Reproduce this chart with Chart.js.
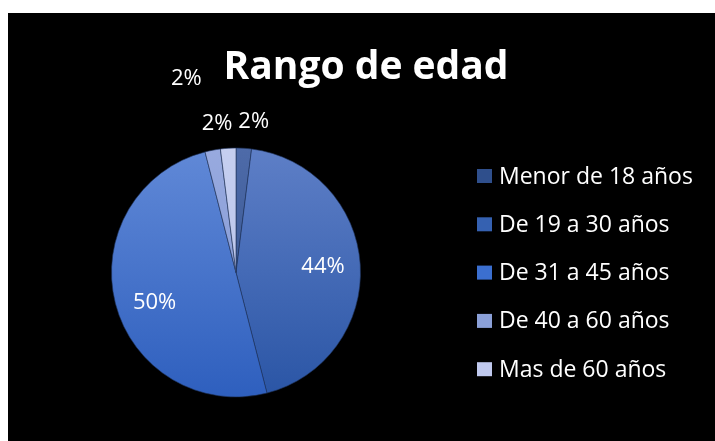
<!DOCTYPE html>
<html>
<head>
<meta charset="utf-8">
<script src="https://cdn.jsdelivr.net/npm/chart.js@4.4.1/dist/chart.umd.min.js"></script>
<style>
  html, body { margin: 0; padding: 0; background: #ffffff; }
  body { width: 715px; height: 441px; position: relative; overflow: hidden; }
  #wrap { position: absolute; left: 8px; top: 13px; width: 707px; height: 428px; background: #000000; }
  canvas { display: block; }
</style>
</head>
<body>
<div id="wrap"><canvas id="c" width="707" height="428"></canvas></div>
<script>
// ---- data ----
const titleText = "Rango de edad";
const categories = ["Menor de 18 años", "De 19 a 30 años", "De 31 a 45 años", "De 40 a 60 años", "Mas de 60 años"];
const counts = [1, 22, 25, 1, 1];

// ---- styles ----
const topColors    = ["#4e6ba9", "#5e7fc7", "#6189d7", "#98aadf", "#c6cff0"];
const bottomColors = ["#2b4a86", "#2a55a5", "#2e5fbe", "#7e94d1", "#b2bee8"];
const legendColors = ["#2f4f8c", "#3561b1", "#3b6fd0", "#8ba0d8", "#c0c9ee"];
// label placement: outside labels (true) or inside, plus pixel nudges
const labelOutside = [true, false, false, true, true];
const labelShift = [[8, 3], [0, 0], [3, 9], [10, 3], [-40, -40]];
const FONT = "'Open Sans', Lato, 'DejaVu Sans', sans-serif";

function sliceFill(ctx, i) {
  const area = ctx.chart.chartArea;
  if (!area) return legendColors[i];
  const g = ctx.chart.ctx.createLinearGradient(0, area.top, 0, area.bottom);
  g.addColorStop(0, topColors[i]);
  g.addColorStop(1, bottomColors[i]);
  return g;
}

const overlay = {
  id: 'overlay',
  afterDraw(chart) {
    const ctx = chart.ctx;
    const meta = chart.getDatasetMeta(0);
    const total = counts.reduce((a, b) => a + b, 0);
    ctx.save();
    // title
    ctx.fillStyle = "#ffffff";
    ctx.font = "bold 39px " + FONT;
    ctx.textAlign = "center";
    ctx.textBaseline = "alphabetic";
    ctx.fillText(titleText, 358, 66);

    // percentage labels
    ctx.textBaseline = "middle";
    ctx.font = "22px " + FONT;
    meta.data.forEach((arc, i) => {
      const p = arc.getProps(['x', 'y', 'startAngle', 'endAngle', 'outerRadius'], true);
      const mid = (p.startAngle + p.endAngle) / 2;
      const pct = Math.round(counts[i] / total * 100) + "%";
      const r = labelOutside[i] ? p.outerRadius + 30 : p.outerRadius * 0.7;
      const x = p.x + Math.cos(mid) * r + labelShift[i][0];
      const y = p.y + Math.sin(mid) * r + labelShift[i][1];
      ctx.fillText(pct, x, y);
    });

    // legend
    ctx.textAlign = "left";
    ctx.font = "23px " + FONT;
    categories.forEach((name, i) => {
      const cy = 163 + i * 48.3;
      ctx.fillStyle = legendColors[i];
      ctx.fillRect(469, cy - 7, 15, 14);
      ctx.fillStyle = "#ffffff";
      ctx.fillText(name, 491, cy + 1);
    });
    ctx.restore();
  }
};

new Chart(document.getElementById('c'), {
  type: 'pie',
  data: {
    labels: categories,
    datasets: [{
      data: counts,
      backgroundColor: (ctx) => sliceFill(ctx, ctx.dataIndex),
      borderColor: "rgba(30,50,90,0.6)",
      borderWidth: 1
    }]
  },
  options: {
    responsive: false,
    animation: false,
    layout: { padding: { left: 103, right: 354, top: 134, bottom: 43 } },
    plugins: { legend: { display: false }, title: { display: false }, tooltip: { enabled: false } }
  },
  plugins: [overlay]
});
</script>
</body>
</html>
